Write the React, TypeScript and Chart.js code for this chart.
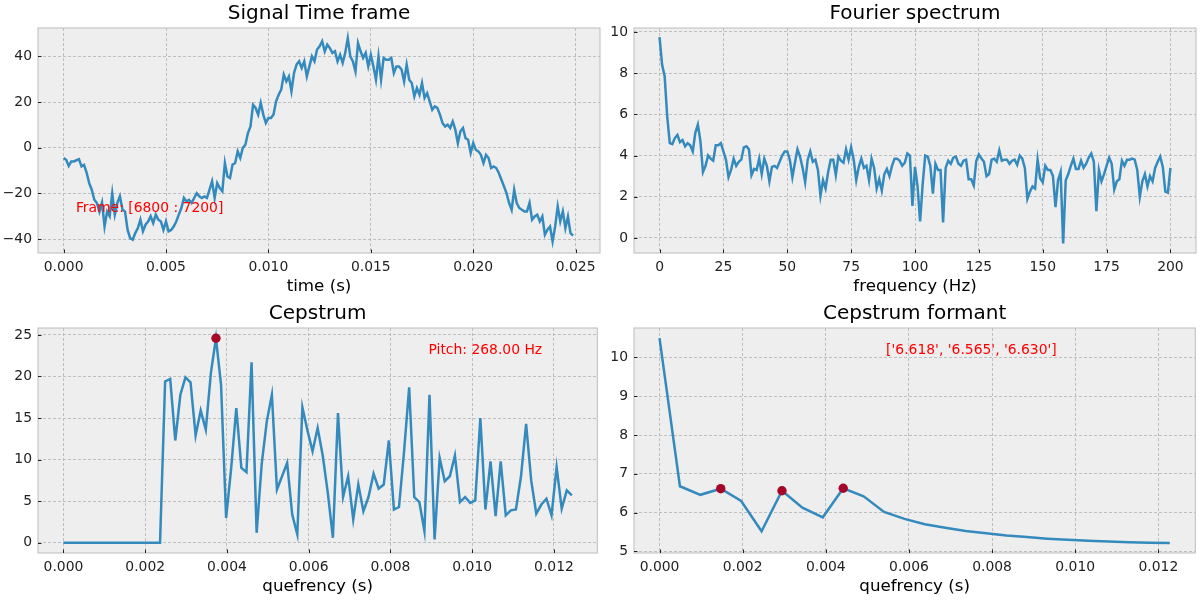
import { useEffect, useRef } from "react";
import { Chart, registerables } from "chart.js";

Chart.register(...registerables);

const FONT = "'DejaVu Sans', sans-serif";
const LINE = "#348ABD";
const MARK = "#A60628";

// Signal Time frame (read every 0.125 ms)
const signalStep = 0.000125;
const signalValues = [
  -4.5, -5.3, -8, -6, -6, -5.5, -5, -8.2, -7.5, -11,
  -15.5, -18.4, -22.8, -24.2, -28, -24, -34.5, -28, -30, -20,
  -29.3, -24.2, -21.3, -27, -28, -36, -39.6, -40.3, -37.4, -35.2,
  -31.5, -36.6, -33.7, -32.3, -30, -33, -29.3, -31.5, -32.3, -36,
  -32.3, -36.6, -36, -34.5, -32.3, -29.3, -26.4, -22, -23.5, -22.8,
  -24.2, -22, -19.9, -21.3, -22, -21.3, -22, -18.4, -14.7, -22,
  -15.5, -17.7, -19.1, -6.7, -12.6, -13.3, -7.4, -6.7, -1.6, -4.5,
  -0.1, 1.3, 6.4, 9.3, 18.8, 17.4, 14.5, 19.6, 14.5, 10.8,
  13, 13, 14.5, 20.3, 23.2, 25.4, 32, 29, 31.2, 24.7,
  32.7, 36.4, 37.8, 34.9, 37.8, 31.2, 35.6, 40, 37.8, 43,
  44.4, 46.6, 42.2, 45.1, 43.6, 41.5, 42.2, 37.8, 40.7, 37.1,
  41.5, 48, 40, 37.8, 33.4, 45.8, 42.2, 39.3, 41.5, 35.6,
  40.7, 35.6, 29.8, 40, 29.8, 39.3, 38.5, 38.5, 39.3, 32.7,
  35.6, 35.6, 34.2, 29, 36.4, 29.8, 28.3, 22.5, 26.1, 23.2,
  28.3, 21.8, 23.9, 20.3, 16.6, 18.1, 17.4, 14.5, 10.8, 9.3,
  10.1, 8.6, 11.5, 7.9, 2, 7.2, 8.6, 4.2, 3.5, -2.3,
  2, -0.9, -1.6, -3.1, -6.7, -3.1, -4.5, -8.9, -8.2, -8.9,
  -11.1, -14, -16.9, -19.9, -24.2, -27.2, -18.4, -24.2, -26.4, -27.2,
  -27.9, -27.9, -24.2, -31.5, -30.1, -29.3, -32.3, -30.1, -38.1, -35.9,
  -34.5, -41, -34.5, -25.7, -32.3, -27.9, -35.2, -30.1, -37.4, -38.5,
];

// Fourier spectrum, 1 Hz bins from 0 to 200 Hz
const spectrumStep = 1;
const spectrumValues = [
  9.75, 8.4, 7.85, 5.9, 4.6, 4.55, 4.85, 5.0, 4.65, 4.75,
  4.45, 4.6, 4.5, 4.2, 5.1, 5.5, 4.7, 3.2, 3.5, 4.0,
  3.85, 3.75, 4.5, 4.5, 4.6, 4.2, 3.8, 2.95, 3.3, 3.85,
  3.5, 3.7, 3.8, 4.4, 4.45, 4.3, 3.05, 3.35, 3.3, 3.85,
  3.1, 3.85, 3.5, 2.75, 3.45, 3.5, 3.4, 3.7, 4.0, 4.2,
  4.2, 3.8, 2.95, 3.65, 4.3, 3.95, 3.4, 2.7, 3.8, 4.2,
  3.7, 3.8, 3.3, 2.05, 2.8, 2.4, 3.2, 3.8, 3.8, 3.05,
  3.95, 3.75, 3.65, 4.3, 3.8, 4.4, 3.8, 2.8, 3.45, 3.85,
  3.4, 3.5, 2.8, 3.85, 3.4, 2.4, 2.85, 2.3, 3.1, 3.35,
  3.0, 3.5, 3.85, 3.85, 3.75, 3.5, 3.65, 4.1, 4.0, 1.55,
  3.45, 2.5, 0.8, 2.6, 4.0, 3.95, 3.5, 2.15, 3.6, 3.3,
  3.3, 0.75, 3.4, 3.75, 3.6, 3.9, 3.95, 3.6, 3.5, 3.75,
  3.8, 2.85, 2.85, 2.55, 3.75, 4.05, 3.85, 3.7, 3.0, 3.1,
  3.8, 3.85, 3.7, 4.25, 3.75, 3.8, 3.8, 3.6, 3.75, 3.8,
  3.55, 4.0, 3.85, 3.4, 1.9, 2.25, 2.5, 2.4, 3.8, 2.9,
  2.7, 3.5, 3.3, 3.3, 3.0, 1.5, 2.8, 3.2, -0.27, 2.8,
  3.1, 3.5, 3.85, 3.35, 3.35, 3.75, 3.4, 3.6, 3.9, 4.1,
  3.7, 1.3, 3.3, 2.75, 3.1, 3.5, 3.9, 3.6, 2.35, 2.75,
  2.85, 3.75, 3.5, 3.8, 3.8, 3.85, 3.8, 3.3, 2.0, 2.75,
  3.1, 2.5, 3.0, 2.75, 3.4, 3.7, 3.95, 3.45, 2.25, 2.2,
  3.4,
];

// Cepstrum
const pitchHz = 268;
const cepstrumStep = 1 / (pitchHz * 30);
const cepstrumValues = [
  0, 0, 0, 0, 0, 0, 0, 0, 0, 0,
  0, 0, 0, 0, 0, 0, 0, 0, 0, 0,
  19.4, 19.7, 12.3, 17.8, 19.9, 19.3, 12.9, 15.9, 13.6, 20.4,
  24.6, 19.0, 3.0, 9.0, 16.2, 9.0, 8.5, 21.7, 1.2, 9.5,
  14.6, 17.8, 6.4, 8.0, 9.6, 3.4, 1.0, 16.3, 13.5, 11.0,
  13.8, 10.5, 6.0, 0.6, 15.6, 5.5, 8.0, 2.8, 7.0, 3.8,
  5.5, 8.3, 6.5, 7.0, 12.3, 4.0, 4.3, 11.0, 18.7, 5.5,
  4.9, 1.4, 17.8, 0.4, 10.2, 7.4, 8.0, 10.5, 4.9, 5.5,
  4.8, 5.1, 15.0, 4.0, 9.8, 3.2, 9.8, 3.3, 3.9, 4.0,
  8.0, 14.3, 7.5, 3.5, 4.6, 5.3, 3.3, 9.1, 4.1, 6.3,
  5.7,
];
const pitchValue = 24.6;

// Cepstrum formant
const formantStep = 0.000491;
const formantValues = [
  10.5, 6.68, 6.46, 6.618, 6.3, 5.52, 6.565, 6.13, 5.88, 6.63,
  6.42, 6.02, 5.84, 5.7, 5.61, 5.53, 5.47, 5.41, 5.37, 5.33,
  5.3, 5.275, 5.255, 5.24, 5.225, 5.22,
];
const formantPeakIdx = [3, 6, 9];

// tick labels
const signalXTicks = [0, 0.005, 0.01, 0.015, 0.02, 0.025];
const signalYTicks = [-40, -20, 0, 20, 40];
const spectrumXTicks = [0, 25, 50, 75, 100, 125, 150, 175, 200];
const spectrumYTicks = [0, 2, 4, 6, 8, 10];
const quefrencyTicks = [0, 0.002, 0.004, 0.006, 0.008, 0.01, 0.012];
const cepstrumYTicks = [0, 5, 10, 15, 20, 25];
const formantYTicks = [5, 6, 7, 8, 9, 10];

type Pt = { x: number; y: number };
type Note = { x: number; y: number; text: string };

type PanelProps = {
  title: string;
  xLabel: string;
  line: Pt[];
  marks?: Pt[];
  note?: Note;
  xRange: [number, number];
  yRange: [number, number];
  xTicks: number[];
  yTicks: number[];
  xDigits: number;
  box: { left: number; top: number; width: number; height: number };
  area: { left: number; right: number; top: number; bottom: number };
};

const fmt = (v: number, digits: number) =>
  v.toFixed(digits).replace("-", "\u2212");

const series = (values: number[], step: number): Pt[] =>
  values.map((y, i) => ({ x: i * step, y }));

const axesStyle = (note?: Note) => ({
  id: "axesStyle",
  beforeDraw(chart: any) {
    const { ctx, chartArea: a } = chart;
    ctx.save();
    ctx.fillStyle = "#eeeeee";
    ctx.fillRect(a.left, a.top, a.right - a.left, a.bottom - a.top);
    ctx.restore();
  },
  afterDraw(chart: any) {
    const { ctx, chartArea: a, scales } = chart;
    ctx.save();
    ctx.strokeStyle = "#bcbcbc";
    ctx.lineWidth = 1;
    ctx.strokeRect(a.left, a.top, a.right - a.left, a.bottom - a.top);

    // inward tick marks
    ctx.strokeStyle = "#222";
    ctx.lineWidth = 1;
    ctx.beginPath();
    scales.x.ticks.forEach((t: any) => {
      const px = Math.round(scales.x.getPixelForValue(t.value)) + 0.5;
      ctx.moveTo(px, a.bottom);
      ctx.lineTo(px, a.bottom - 3.5);
    });
    scales.y.ticks.forEach((t: any) => {
      const py = Math.round(scales.y.getPixelForValue(t.value)) + 0.5;
      ctx.moveTo(a.left, py);
      ctx.lineTo(a.left + 3.5, py);
    });
    ctx.stroke();

    if (note) {
      ctx.fillStyle = "#ff0000";
      ctx.font = `13.9px ${FONT}`;
      ctx.textAlign = "left";
      ctx.textBaseline = "alphabetic";
      ctx.fillText(
        note.text,
        scales.x.getPixelForValue(note.x),
        scales.y.getPixelForValue(note.y)
      );
    }
    ctx.restore();
  },
});

const ChartPanel = (p: PanelProps) => {
  const canvasRef = useRef<HTMLCanvasElement | null>(null);

  useEffect(() => {
    if (!canvasRef.current) return;
    const { area, box } = p;
    const datasets: any[] = [];
    if (p.marks) {
      datasets.push({
        data: p.marks,
        showLine: false,
        pointRadius: 4.7,
        pointBackgroundColor: MARK,
        pointBorderColor: MARK,
        pointBorderWidth: 0,
      });
    }
    datasets.push({
      data: p.line,
      borderColor: LINE,
      borderWidth: 2.5,
      pointRadius: 0,
      tension: 0,
      fill: false,
    });

    const tickFont = { family: FONT, size: 13.9 };
    const grid = { color: "#b2b2b2", lineWidth: 0.8, drawTicks: false };
    const border = { display: false, dash: [3, 2] };

    const chart = new Chart(canvasRef.current, {
      type: "line",
      data: { datasets },
      options: {
        animation: false,
        responsive: true,
        maintainAspectRatio: false,
        events: [],
        layout: {
          padding: { left: 0, right: box.width - area.right, top: 0, bottom: 0 },
        },
        plugins: {
          legend: { display: false },
          tooltip: { enabled: false },
          title: {
            display: true,
            text: p.title,
            fullSize: false,
            color: "#000",
            font: { family: FONT, size: 20, weight: "normal" },
            padding: { top: 1.4, bottom: area.top - 1.4 - 24 },
          },
        },
        scales: {
          x: {
            type: "linear",
            min: p.xRange[0],
            max: p.xRange[1],
            afterBuildTicks: (s: any) => {
              s.ticks = p.xTicks.map((v) => ({ value: v }));
            },
            afterFit: (s: any) => {
              s.height = box.height - area.bottom;
            },
            ticks: {
              autoSkip: false,
              maxRotation: 0,
              padding: 6,
              color: "#222",
              font: tickFont,
              callback: (v: any) => fmt(Number(v), p.xDigits),
            },
            grid,
            border,
            title: {
              display: true,
              text: p.xLabel,
              color: "#000",
              font: { family: FONT, size: 16.7 },
              padding: { top: 0, bottom: 3.5 },
            },
          },
          y: {
            type: "linear",
            min: p.yRange[0],
            max: p.yRange[1],
            afterBuildTicks: (s: any) => {
              s.ticks = p.yTicks.map((v) => ({ value: v }));
            },
            afterFit: (s: any) => {
              s.width = area.left;
            },
            ticks: {
              padding: 6,
              color: "#222",
              font: tickFont,
              callback: (v: any) => fmt(Number(v), 0),
            },
            grid,
            border,
          },
        },
      },
      plugins: [axesStyle(p.note)],
    } as any);

    return () => {
      chart.destroy();
    };
  }, [p]);

  return (
    <div
      style={{
        position: "absolute",
        left: p.box.left,
        top: p.box.top,
        width: p.box.width,
        height: p.box.height,
      }}
    >
      <canvas ref={canvasRef}></canvas>
    </div>
  );
};

const leftArea = { left: 38, right: 600, top: 28, bottom: 253 };
const rightArea = { left: 34, right: 596, top: 28, bottom: 253 };

const panels: PanelProps[] = [
  {
    title: "Signal Time frame",
    xLabel: "time (s)",
    line: series(signalValues, signalStep),
    note: { x: 0.0006, y: -28, text: "Frame: [6800 : 7200]" },
    xRange: [-0.00125, 0.02619],
    yRange: [-46.1, 52.4],
    xTicks: signalXTicks,
    yTicks: signalYTicks,
    xDigits: 3,
    box: { left: 0, top: 0, width: 602, height: 300 },
    area: leftArea,
  },
  {
    title: "Fourier spectrum",
    xLabel: "frequency (Hz)",
    line: series(spectrumValues, spectrumStep),
    xRange: [-10, 210],
    yRange: [-0.73, 10.19],
    xTicks: spectrumXTicks,
    yTicks: spectrumYTicks,
    xDigits: 0,
    box: { left: 600, top: 0, width: 600, height: 300 },
    area: rightArea,
  },
  {
    title: "Cepstrum",
    xLabel: "quefrency (s)",
    line: series(cepstrumValues, cepstrumStep),
    marks: [{ x: 1 / pitchHz, y: pitchValue }],
    note: { x: 0.00893, y: 22.7, text: `Pitch: ${pitchHz.toFixed(2)} Hz` },
    xRange: [-0.000622, 0.01306],
    yRange: [-1.23, 25.83],
    xTicks: quefrencyTicks,
    yTicks: cepstrumYTicks,
    xDigits: 3,
    box: { left: 0, top: 300, width: 602, height: 300 },
    area: { ...leftArea, right: 601 },
  },
  {
    title: "Cepstrum formant",
    xLabel: "quefrency (s)",
    line: series(formantValues, formantStep),
    marks: formantPeakIdx.map((i) => ({ x: i * formantStep, y: formantValues[i] })),
    note: {
      x: 0.00545,
      y: 10.08,
      text:
        "[" +
        formantPeakIdx.map((i) => `'${formantValues[i].toFixed(3)}'`).join(", ") +
        "]",
    },
    xRange: [-0.000614, 0.012889],
    yRange: [4.96, 10.76],
    xTicks: quefrencyTicks,
    yTicks: formantYTicks,
    xDigits: 3,
    box: { left: 600, top: 300, width: 600, height: 300 },
    area: rightArea,
  },
];

const App = () => {
  return (
    <div
      style={{
        position: "absolute",
        left: 0,
        top: 0,
        width: 1200,
        height: 600,
        background: "#fff",
        overflow: "hidden",
      }}
    >
      {panels.map((p) => (
        <ChartPanel key={p.title} {...p} />
      ))}
    </div>
  );
};

export default App;
